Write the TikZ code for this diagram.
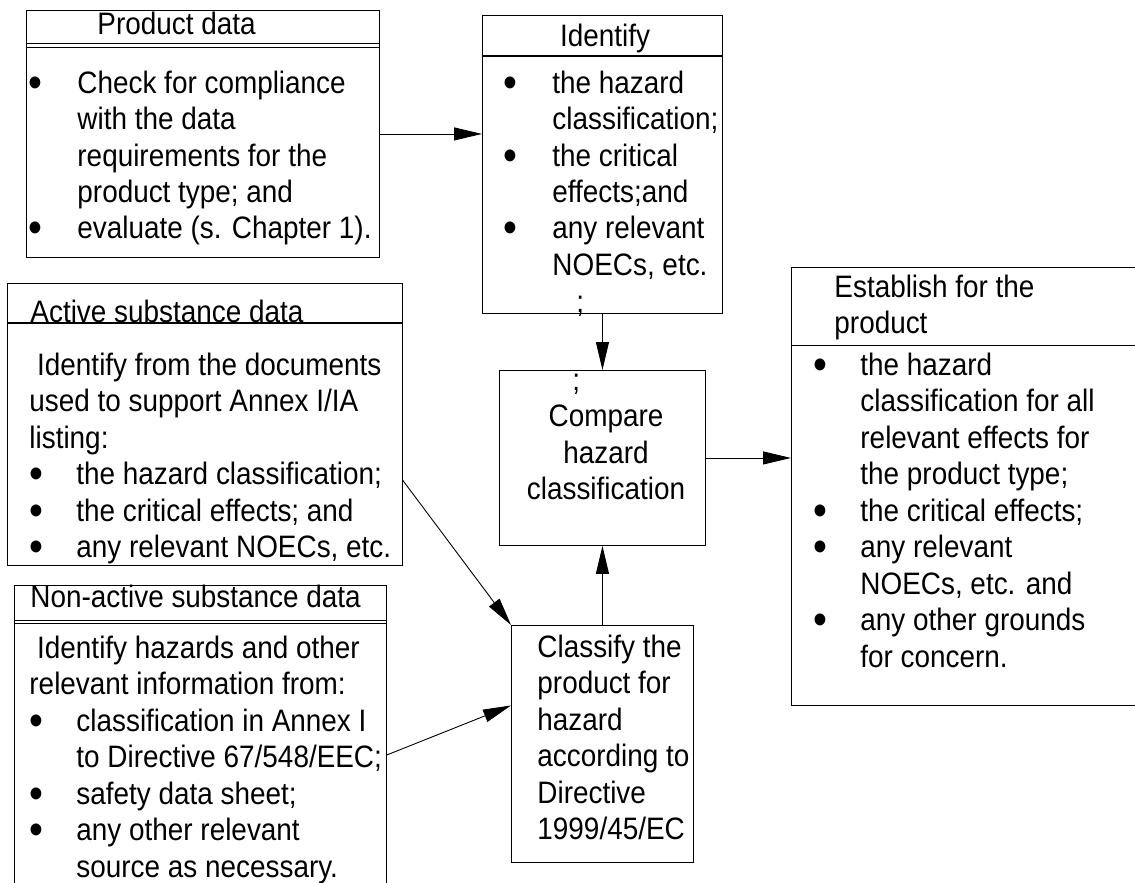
\documentclass[tikz,border=0pt]{standalone}
\usepackage{fontspec}
\setmainfont{Liberation Sans}[FakeStretch=0.9]
\usetikzlibrary{arrows.meta}

\newcommand{\blt}{\raisebox{-4pt}[0pt][0pt]{\fontsize{44}{36.5}\selectfont\textbullet}}

\begin{document}
\begin{tikzpicture}[x=1pt,y=-1pt,>={Triangle[length=28pt,width=13pt]},line width=0.9pt,
  box/.style={draw,rectangle,anchor=north west,inner sep=0pt},
  txt/.style={anchor=base west,inner sep=0pt,font=\fontsize{31}{36.5}\selectfont},
  rule/.style={line width=0.9pt},
  thick rule/.style={line width=1.8pt}]

  \useasboundingbox (0,0) rectangle (1135,883);

  %Boxes
  \node[box,minimum width=353pt,minimum height=247pt] (prod) at (26,10) {};
  \node[box,minimum width=240pt,minimum height=298pt] (ident) at (482,15) {};
  \node[box,minimum width=206pt,minimum height=175pt] (cmp) at (499,370) {};
  \node[box,minimum width=182pt,minimum height=237pt] (cls) at (511,625) {};
  \node[box,minimum width=360pt,minimum height=438pt] (est) at (791,267) {};
  \node[box,minimum width=395pt,minimum height=282pt] (act) at (7,283) {};
  \node[box,minimum width=372pt,minimum height=320pt] (nonact) at (14,585) {};

  %Title rules
  \draw[rule] ([yshift=-33pt]prod.north west) -- ([yshift=-33pt]prod.north east);
  \draw[rule] ([yshift=-37pt]prod.north west) -- ([yshift=-37pt]prod.north east);
  \draw[thick rule] ([yshift=-41pt]ident.north west) -- ([yshift=-41pt]ident.north east);
  \draw[rule] ([yshift=-78pt]est.north west) -- ([yshift=-78pt]est.north east);
  \draw[thick rule] ([yshift=-40pt]act.north west) -- ([yshift=-40pt]act.north east);
  \draw[rule] ([yshift=-35pt]nonact.north west) -- ([yshift=-35pt]nonact.north east);
  \draw[rule] ([yshift=-38pt]nonact.north west) -- ([yshift=-38pt]nonact.north east);

  %Product data
  \node[txt] (prodtitle) at (97,35) {Product data};
  \node[txt] (prodbody) at (28,93) {\begin{tabular}[t]{@{}p{49pt}@{}l@{}}
    \blt & Check for compliance\\
     & with the data\\
     & requirements for the\\
     & product type; and\\
    \blt & evaluate (s. Chapter 1).
  \end{tabular}};

  %Identify
  \node[txt,anchor=base] (identtitle) at (605,47) {Identify};
  \node[txt] (identbody) at (503,93) {\begin{tabular}[t]{@{}p{49pt}@{}l@{}}
    \blt & the hazard\\
     & classification;\\
    \blt & the critical\\
     & effects;and\\
    \blt & any relevant\\
     & NOECs, etc.\\
     & \hspace*{24pt};
  \end{tabular}};

  %Compare
  \node[txt] (cmpsemi) at (572,390) {;};
  \node[txt,anchor=base] (cmptext) at (606,426.5) {\begin{tabular}[t]{@{}c@{}}
    Compare\\
    hazard\\
    classification
  \end{tabular}};

  %Classify
  \node[txt] (clstext) at (537,657) {\begin{tabular}[t]{@{}l@{}}
    Classify the\\
    product for\\
    hazard\\
    according to\\
    Directive\\
    1999/45/EC
  \end{tabular}};

  %Establish
  \node[txt] (esttitle) at (834,297) {\begin{tabular}[t]{@{}l@{}}
    Establish for the\\
    product
  \end{tabular}};
  \node[txt] (estbody) at (813,375) {\begin{tabular}[t]{@{}p{47pt}@{}l@{}}
    \blt & the hazard\\
     & classification for all\\
     & relevant effects for\\
     & the product type;\\
    \blt & the critical effects;\\
    \blt & any relevant\\
     & NOECs, etc. and\\
    \blt & any other grounds\\
     & for concern.
  \end{tabular}};

  %Active substance data
  \node[txt] (acttitle) at (30,322) {Active substance data};
  \node[txt] (actbody) at (29,375) {\begin{tabular}[t]{@{}p{47pt}@{}l@{}}
    \multicolumn{2}{@{}l@{}}{\ Identify from the documents}\\
    \multicolumn{2}{@{}l@{}}{used to support Annex I/IA}\\
    \multicolumn{2}{@{}l@{}}{listing:}\\
    \blt & the hazard classification;\\
    \blt & the critical effects; and\\
    \blt & any relevant NOECs, etc.
  \end{tabular}};

  %Non-active substance data
  \node[txt] (nonacttitle) at (30,607) {Non-active substance data};
  \node[txt] (nonactbody) at (29,658) {\begin{tabular}[t]{@{}p{47pt}@{}l@{}}
    \multicolumn{2}{@{}l@{}}{\ Identify hazards and other}\\
    \multicolumn{2}{@{}l@{}}{relevant information from:}\\
    \blt & classification in Annex I\\
     & to Directive 67/548/EEC;\\
    \blt & safety data sheet;\\
    \blt & any other relevant\\
     & source as necessary.
  \end{tabular}};

  %Shows the flow between the boxes
  \draw[->] (prod.east) -- (prod.east -| ident.west);
  \draw[->] (ident.south) -- (cmp.north);
  \draw[->] (cls.north) -- (cmp.south);
  \draw[->] (cmp.east) -- (cmp.east -| est.west);
  \draw[->] ([yshift=-56pt]act.east) -- (cls.north west);
  \draw[->] ([yshift=-9.5pt]nonact.east) -- ([yshift=38.5pt]cls.west);

\end{tikzpicture}
\end{document}
